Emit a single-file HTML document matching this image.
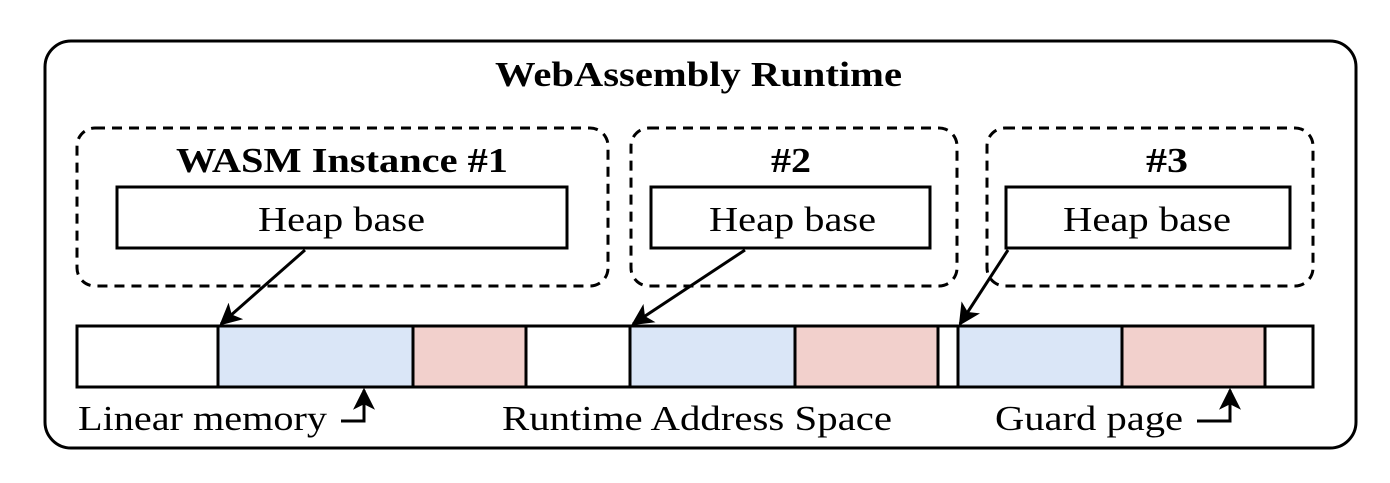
<!DOCTYPE html>
<html><head><style>body{margin:0;background:#fff}</style></head><body>
<svg width="1390" height="478" viewBox="0 0 1390 478" xmlns="http://www.w3.org/2000/svg" font-family="Liberation Serif, serif">
<defs>
<marker id="h" viewBox="0 0 10 10" markerWidth="22" markerHeight="22" refX="9" refY="5" orient="auto" markerUnits="userSpaceOnUse"><path d="M0,0 L10,5 L0,10 L2.5,5z" fill="#000"/></marker></defs>
<rect x="45" y="41" width="1311" height="407" rx="26" fill="none" stroke="#000" stroke-width="3"/>
<text x="495" y="86" font-size="35" font-weight="bold" textLength="407" lengthAdjust="spacingAndGlyphs">WebAssembly Runtime</text>
<g fill="none" stroke="#000" stroke-width="3" stroke-dasharray="10,7">
<rect x="77" y="128" width="531" height="158" rx="18"/>
<rect x="631" y="128" width="326" height="158" rx="18"/>
<rect x="987" y="128" width="326" height="158" rx="18"/>
</g>
<g font-size="35" font-weight="bold">
<text x="176" y="172" textLength="332" lengthAdjust="spacingAndGlyphs">WASM Instance #1</text>
<text x="771" y="172" textLength="40" lengthAdjust="spacingAndGlyphs">#2</text>
<text x="1146" y="172" textLength="42" lengthAdjust="spacingAndGlyphs">#3</text>
</g>
<g fill="#fff" stroke="#000" stroke-width="3">
<rect x="117" y="187" width="450" height="61"/>
<rect x="651" y="187" width="279" height="61"/>
<rect x="1006" y="187" width="284" height="61"/>
</g>
<g font-size="35">
<text x="258" y="231" textLength="167" lengthAdjust="spacingAndGlyphs">Heap base</text>
<text x="709" y="231" textLength="167" lengthAdjust="spacingAndGlyphs">Heap base</text>
<text x="1063" y="231" textLength="168" lengthAdjust="spacingAndGlyphs">Heap base</text>
</g>
<g stroke="#000" stroke-width="3">
<rect x="77" y="326" width="1236" height="61" fill="#fff"/>
<rect x="218" y="326" width="195" height="61" fill="#dae6f7"/>
<rect x="413" y="326" width="113" height="61" fill="#f2d0cc"/>
<rect x="630" y="326" width="165" height="61" fill="#dae6f7"/>
<rect x="795" y="326" width="143" height="61" fill="#f2d0cc"/>
<rect x="958" y="326" width="164" height="61" fill="#dae6f7"/>
<rect x="1122" y="326" width="143" height="61" fill="#f2d0cc"/>
</g>
<g stroke="#000" stroke-width="3" fill="none">
<line x1="305" y1="250" x2="221" y2="324" marker-end="url(#h)"/>
<line x1="745" y1="250" x2="633" y2="324" marker-end="url(#h)"/>
<line x1="1008" y1="250" x2="960" y2="324" marker-end="url(#h)"/>
<polyline points="341,421 364,421 364,390" marker-end="url(#h)"/>
<polyline points="1197,421 1230,421 1230,390" marker-end="url(#h)"/>
</g>
<g font-size="35">
<text x="78" y="430" textLength="249" lengthAdjust="spacingAndGlyphs">Linear memory</text>
<text x="502" y="430" textLength="390" lengthAdjust="spacingAndGlyphs">Runtime Address Space</text>
<text x="995" y="430" textLength="188" lengthAdjust="spacingAndGlyphs">Guard page</text>
</g>
</svg>
</body></html>
